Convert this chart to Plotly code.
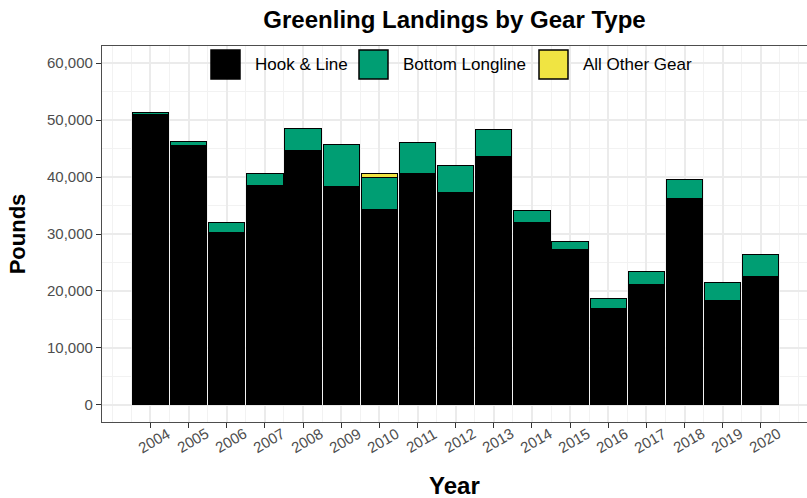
import plotly.graph_objects as go

years = list(range(2004, 2021))
hook_and_line = [50900, 45500, 30300, 38500, 44700, 38350, 34300, 40700, 37300,
                 43600, 32000, 27250, 16900, 21150, 36150, 18300, 22550]
bottom_longline = [500, 800, 1800, 2200, 3900, 7300, 5700, 5300, 4700,
                   4800, 2100, 1350, 1750, 2200, 3500, 3100, 3850]
all_other_gear = [0, 0, 0, 0, 0, 0, 600, 0, 0,
                  0, 0, 0, 0, 0, 0, 0, 0]

series = [
    ("Hook & Line", hook_and_line, "#000000"),
    ("Bottom Longline", bottom_longline, "#009E73"),
    ("All Other Gear", all_other_gear, "#F0E442"),
]
y_ticks = list(range(0, 60001, 10000))

W, H = 807, 498
margin = dict(l=102, r=0, t=46, b=76)
plot_w = W - margin["l"] - margin["r"]
plot_h = H - margin["t"] - margin["b"]
font_family = "Liberation Sans, Arial, sans-serif"
grey_text = "#4D4D4D"

fig = go.Figure()
for name, vals, colour in series:
    fig.add_trace(go.Bar(
        x=years, y=vals, name=name, width=0.95,
        marker=dict(color=colour, line=dict(color="#000000", width=1)),
        showlegend=False,
    ))


def px_x(px):
    return (px - margin["l"]) / plot_w


def px_y(py):
    return (H - margin["b"] - py) / plot_h


# hand-made legend with large keys like the ggplot original
legend_items = [("Hook & Line", "#000000", 211, 253),
                ("Bottom Longline", "#009E73", 359, 401),
                ("All Other Gear", "#F0E442", 539, 581)]
shapes = []
annotations = []
for label, colour, key_x, text_x in legend_items:
    shapes.append(dict(
        type="rect", xref="paper", yref="paper",
        x0=px_x(key_x), x1=px_x(key_x + 29),
        y0=px_y(79), y1=px_y(50),
        fillcolor=colour, line=dict(color="#000000", width=1.5),
    ))
    annotations.append(dict(
        text=label, xref="paper", yref="paper",
        x=px_x(text_x), y=px_y(65), xanchor="left", yanchor="middle",
        showarrow=False, font=dict(family=font_family, size=17, color="#000000"),
    ))

# rotated year labels, centred under each tick (ggplot style)
for yr in years:
    annotations.append(dict(
        text=str(yr), xref="x", yref="paper",
        x=yr, xshift=3.5, y=px_y(440), xanchor="center", yanchor="middle",
        textangle=-30, showarrow=False,
        font=dict(family=font_family, size=15, color=grey_text),
    ))

annotations.append(dict(
    text="<b>Year</b>", xref="paper", yref="paper",
    x=0.5, y=px_y(485), xanchor="center", yanchor="middle",
    showarrow=False, font=dict(family=font_family, size=24, color="#000000"),
))

fig.update_layout(
    width=W, height=H, margin=margin,
    barmode="stack",
    paper_bgcolor="white", plot_bgcolor="white",
    title=dict(text="<b>Greenling Landings by Gear Type</b>",
               x=0.5, xref="paper", xanchor="center",
               y=1 - 20 / H, yanchor="middle",
               font=dict(family=font_family, size=24, color="#000000")),
    shapes=shapes, annotations=annotations,
    font=dict(family=font_family),
)

fig.update_xaxes(
    range=[2002.73, 2021.21],
    tickvals=years, showticklabels=False,
    ticks="outside", ticklen=5, tickcolor="#333333", tickwidth=1.2,
    showgrid=True, gridcolor="#EBEBEB", gridwidth=1.5,
    minor=dict(dtick=0.5, tick0=2003, showgrid=True, gridcolor="#F2F2F2", gridwidth=1),
    showline=True, linecolor="#4D4D4D", linewidth=1.3, mirror=True,
    zeroline=False,
)
fig.update_yaxes(
    range=[-3000, 63000],
    tickvals=y_ticks, tickformat=",",
    tickfont=dict(family=font_family, size=15, color=grey_text),
    ticks="outside", ticklen=5, tickcolor="#333333", tickwidth=1.2,
    showgrid=True, gridcolor="#EBEBEB", gridwidth=1.5,
    minor=dict(dtick=5000, tick0=0, showgrid=True, gridcolor="#F2F2F2", gridwidth=1),
    showline=True, linecolor="#4D4D4D", linewidth=1.3,
    zeroline=False,
    title=dict(text="<b>Pounds</b>", standoff=15,
               font=dict(family=font_family, size=22, color="#000000")),
)

# page body has a default 8px margin; drop it so the figure fills the window
fig.write_html("out.html", config={"displayModeBar": False},
               post_script="document.body.style.margin = '0';")
